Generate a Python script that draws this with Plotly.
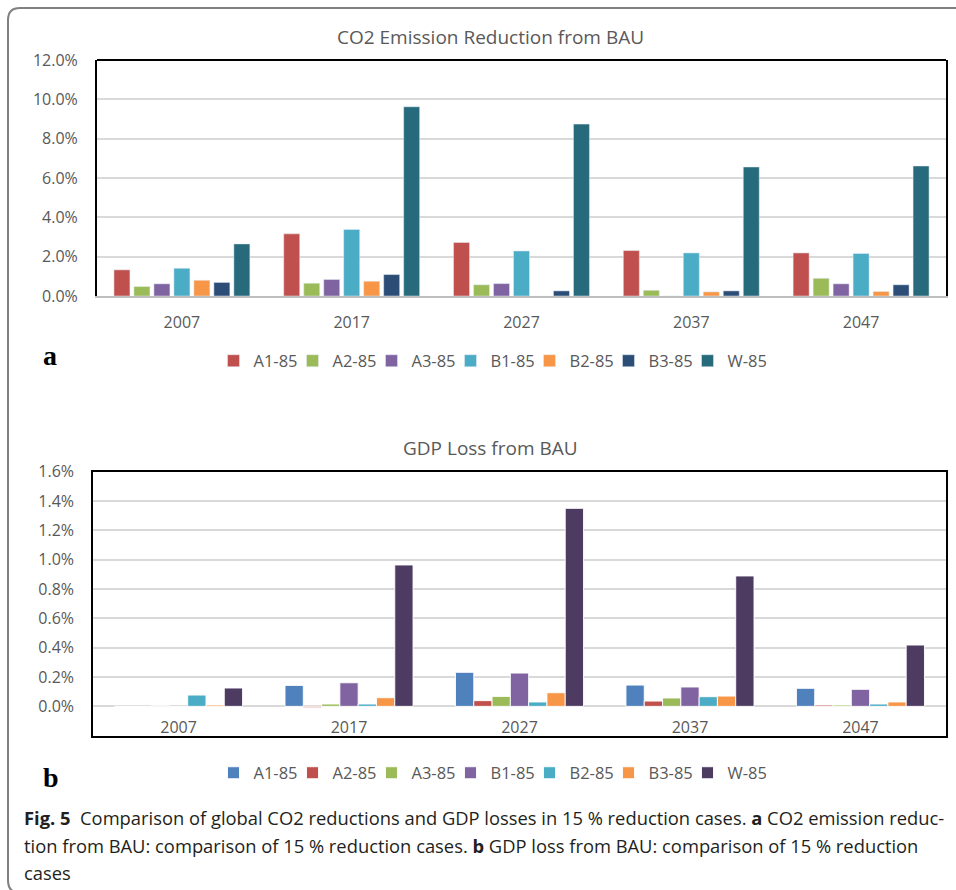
import plotly.graph_objects as go

# ---------------- data ----------------
years = ["2007", "2017", "2027", "2037", "2047"]
scenarios = ["A1-85", "A2-85", "A3-85", "B1-85", "B2-85", "B3-85", "W-85"]

# CO2 emission reduction from BAU (%)
co2_A1 = [1.33, 3.16, 2.72, 2.31, 2.19]
co2_A2 = [0.48, 0.65, 0.57, 0.29, 0.90]
co2_A3 = [0.62, 0.84, 0.63, 0.00, 0.62]
co2_B1 = [1.41, 3.38, 2.29, 2.19, 2.16]
co2_B2 = [0.80, 0.75, -0.03, 0.21, 0.23]
co2_B3 = [0.69, 1.09, 0.26, 0.26, 0.57]
co2_W = [2.65, 9.62, 8.74, 6.56, 6.61]
co2_series = [co2_A1, co2_A2, co2_A3, co2_B1, co2_B2, co2_B3, co2_W]

# GDP loss from BAU (%)
gdp_A1 = [0.000, 0.143, 0.232, 0.145, 0.123]
gdp_A2 = [0.000, -0.009, 0.039, 0.036, 0.009]
gdp_A3 = [0.005, 0.016, 0.068, 0.057, 0.009]
gdp_B1 = [-0.002, 0.161, 0.227, 0.132, 0.116]
gdp_B2 = [0.077, 0.016, 0.030, 0.066, 0.016]
gdp_B3 = [0.009, 0.059, 0.093, 0.070, 0.030]
gdp_W = [0.125, 0.964, 1.350, 0.889, 0.418]
gdp_series = [gdp_A1, gdp_A2, gdp_A3, gdp_B1, gdp_B2, gdp_B3, gdp_W]

co2_colors = ["#C0504D", "#9BBB59", "#8064A2", "#4BACC6", "#F79646", "#2C4D75", "#276A7C"]
gdp_colors = ["#4F81BD", "#C0504D", "#9BBB59", "#8064A2", "#4BACC6", "#F79646", "#4D3B62"]

# ---------------- layout helpers ----------------
W, H = 956, 890
def fx(x):
    return x / W
def fy(y):
    return 1 - y / H

FONT = "Open Sans"
TICK = "#595959"

fig = go.Figure()

for name, vals, col in zip(scenarios, co2_series, co2_colors):
    fig.add_trace(go.Bar(x=years, y=vals, name=name, marker_color=col,
                         xaxis="x", yaxis="y", legend="legend"))

n = len(scenarios)
bw = 0.1073
for i, (name, vals, col) in enumerate(zip(scenarios, gdp_series, gdp_colors)):
    fig.add_trace(go.Bar(x=years, y=vals, name=name, marker_color=col,
                         marker_line=dict(color="rgba(255,255,255,0.9)", width=1),
                         width=bw, offset=(i - n / 2) * bw,
                         xaxis="x2", yaxis="y2", legend="legend2"))

axis_font = dict(family=FONT, size=16, color=TICK)
leg_font = dict(family=FONT, size=16.5, color=TICK)

fig.update_layout(
    width=W, height=H,
    margin=dict(l=0, r=0, t=0, b=0, pad=0, autoexpand=False),
    paper_bgcolor="white", plot_bgcolor="white",
    font=dict(family=FONT, color=TICK),
    barmode="group", bargap=0.176, bargroupgap=0.2,
    xaxis=dict(domain=[fx(97), fx(946)], anchor="y", type="category",
               showline=True, linecolor="#BFBFBF", linewidth=2, mirror=False,
               ticks="", tickfont=axis_font, ticklabelstandoff=11, showgrid=False,
               automargin=False),
    yaxis=dict(domain=[fy(296), fy(60)], anchor="x", range=[0, 12], dtick=2,
               tickformat=".1f", ticksuffix="%", tickfont=axis_font,
               showgrid=True, gridcolor="#D9D9D9", gridwidth=1.5,
               showline=True, linecolor="black", linewidth=2, mirror=True,
               zeroline=False, ticks="", ticklabelstandoff=14, automargin=False),
    xaxis2=dict(domain=[fx(93.3), fx(945.7)], anchor="y2", type="category",
                showline=True, linecolor="black", linewidth=2, mirror=True,
                ticks="", tickfont=axis_font, ticklabelposition="inside",
                showgrid=False, automargin=False),
    yaxis2=dict(domain=[fy(735.7), fy(471.7)], anchor="x2", range=[-0.2, 1.6], dtick=0.2,
                tickformat=".1f", ticksuffix="%", tickfont=axis_font,
                showgrid=True, gridcolor="#D9D9D9", gridwidth=1.5,
                showline=True, linecolor="black", linewidth=2, mirror=True,
                zeroline=True, zerolinecolor="#D9D9D9", zerolinewidth=2,
                ticks="", ticklabelstandoff=14, automargin=False),
    legend=dict(orientation="h", x=fx(490), y=fy(361), xanchor="center", yanchor="middle",
                font=leg_font, entrywidthmode="pixels", entrywidth=34, itemwidth=30,
                bgcolor="rgba(0,0,0,0)"),
    legend2=dict(orientation="h", x=fx(490), y=fy(773), xanchor="center", yanchor="middle",
                 font=leg_font, entrywidthmode="pixels", entrywidth=34, itemwidth=30,
                 bgcolor="rgba(0,0,0,0)"),
    showlegend=True,
)

# top border of chart (a)
fig.add_shape(type="line", xref="x domain", yref="y domain", x0=0, x1=1, y0=1, y1=1,
              line=dict(color="black", width=2))

# outer rounded frame
frame = (f"M {fx(20)},{fy(893)} Q {fx(8)},{fy(893)} {fx(8)},{fy(880)} "
         f"L {fx(8)},{fy(20)} Q {fx(8)},{fy(8)} {fx(20)},{fy(8)} L {fx(975)},{fy(8)}")
fig.add_shape(type="path", xref="paper", yref="paper", path=frame,
              line=dict(color="#808080", width=2))

ann = [
    dict(text="CO2 Emission Reduction from BAU", x=fx(491), y=fy(37),
         font=dict(family=FONT, size=19, color=TICK), xanchor="center", yanchor="middle"),
    dict(text="GDP Loss from BAU", x=fx(490), y=fy(448),
         font=dict(family=FONT, size=19, color=TICK), xanchor="center", yanchor="middle"),
    dict(text="<b>a</b>", x=fx(41), y=fy(355),
         font=dict(family="Liberation Serif", size=28, color="black"), xanchor="left", yanchor="middle"),
    dict(text="<b>b</b>", x=fx(41), y=fy(777),
         font=dict(family="Liberation Serif", size=28, color="black"), xanchor="left", yanchor="middle"),
]
cap_font = dict(family=FONT, size=18.35, color="#231F20")
caption = [
    "<b>Fig. 5</b>  Comparison of global CO2 reductions and GDP losses in 15 % reduction cases. <b>a</b> CO2 emission reduc-",
    "tion from BAU: comparison of 15 % reduction cases. <b>b</b> GDP loss from BAU: comparison of 15 % reduction",
    "cases",
]
for line, yy in zip(caption, [817, 845, 872]):
    ann.append(dict(text=line, x=fx(22), y=fy(yy), font=cap_font, xanchor="left", yanchor="middle"))

for a in ann:
    fig.add_annotation(xref="paper", yref="paper", showarrow=False, **a)

fig.write_html("out.html",
               config={"displayModeBar": False},
               post_script="document.body.style.margin='0px';document.body.style.overflow='hidden';")
